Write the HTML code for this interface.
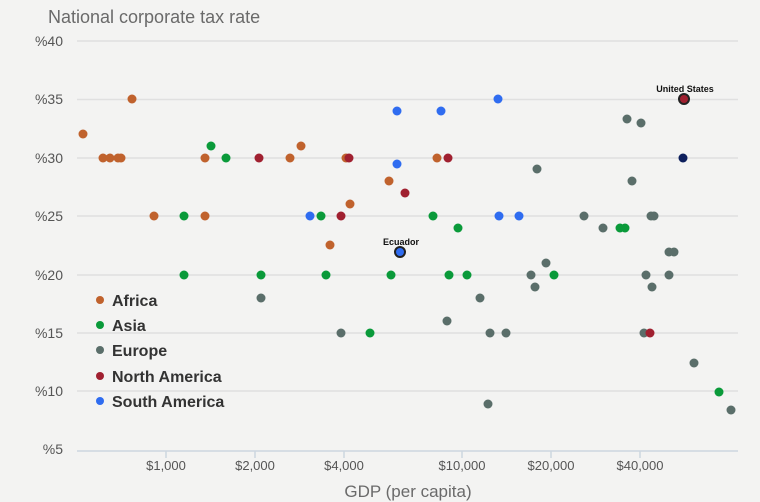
<!DOCTYPE html><html><head><style>html,body{margin:0;padding:0;background:#f3f3f2;overflow:hidden;width:760px;height:502px;}svg{display:block;}</style></head><body>
<svg width="760" height="502" xmlns="http://www.w3.org/2000/svg" font-family="Liberation Sans, sans-serif">
<rect width="760" height="502" fill="#f3f3f2"/>
<text x="48" y="23" font-size="18" fill="#6a6a6a">National corporate tax rate</text>
<g stroke="#e0e0e0" stroke-width="1.5">
<line x1="77" x2="738" y1="41" y2="41"/><line x1="77" x2="738" y1="99.5" y2="99.5"/><line x1="77" x2="738" y1="158" y2="158"/><line x1="77" x2="738" y1="216" y2="216"/><line x1="77" x2="738" y1="275" y2="275"/><line x1="77" x2="738" y1="333" y2="333"/><line x1="77" x2="738" y1="391" y2="391"/></g>
<line x1="77" x2="738" y1="451" y2="451" stroke="#cdd6e0" stroke-width="1.5"/>
<g stroke="#cdd6e0" stroke-width="1.5"><line x1="166" x2="166" y1="451" y2="458"/><line x1="255" x2="255" y1="451" y2="458"/><line x1="344" x2="344" y1="451" y2="458"/><line x1="462" x2="462" y1="451" y2="458"/><line x1="551" x2="551" y1="451" y2="458"/><line x1="640" x2="640" y1="451" y2="458"/></g>
<g font-size="14" fill="#555" text-anchor="end">
<text x="63" y="46">%40</text><text x="63" y="104">%35</text><text x="63" y="163">%30</text><text x="63" y="221">%25</text><text x="63" y="280">%20</text><text x="63" y="338">%15</text><text x="63" y="396">%10</text><text x="63" y="454">%5</text></g>
<g font-size="13" fill="#555" text-anchor="middle">
<text x="166" y="470">$1,000</text><text x="255" y="470">$2,000</text><text x="344" y="470">$4,000</text><text x="462" y="470">$10,000</text><text x="551" y="470">$20,000</text><text x="640" y="470">$40,000</text></g>
<text x="408" y="497" font-size="17" fill="#6a6a6a" text-anchor="middle">GDP (per capita)</text>
<g fill="#c0622d">
<circle cx="83" cy="134" r="4.5"/><circle cx="103" cy="158" r="4.5"/><circle cx="110" cy="158" r="4.5"/><circle cx="118" cy="158" r="4.5"/><circle cx="121" cy="158" r="4.5"/><circle cx="132" cy="99" r="4.5"/><circle cx="154" cy="216" r="4.5"/><circle cx="205" cy="158" r="4.5"/><circle cx="205" cy="216" r="4.5"/><circle cx="290" cy="158" r="4.5"/><circle cx="301" cy="146" r="4.5"/><circle cx="330" cy="245" r="4.5"/><circle cx="346" cy="158" r="4.5"/><circle cx="350" cy="204" r="4.5"/><circle cx="389" cy="181" r="4.5"/><circle cx="437" cy="158" r="4.5"/></g>
<g fill="#0a9a3a">
<circle cx="211" cy="146" r="4.5"/><circle cx="226" cy="158" r="4.5"/><circle cx="184" cy="216" r="4.5"/><circle cx="321" cy="216" r="4.5"/><circle cx="184" cy="275" r="4.5"/><circle cx="261" cy="275" r="4.5"/><circle cx="326" cy="275" r="4.5"/><circle cx="391" cy="275" r="4.5"/><circle cx="370" cy="333" r="4.5"/><circle cx="433" cy="216" r="4.5"/><circle cx="458" cy="228" r="4.5"/><circle cx="449" cy="275" r="4.5"/><circle cx="467" cy="275" r="4.5"/><circle cx="554" cy="275" r="4.5"/><circle cx="620" cy="228" r="4.5"/><circle cx="625" cy="228" r="4.5"/><circle cx="719" cy="392" r="4.5"/></g>
<g fill="#5a6e6a">
<circle cx="261" cy="298" r="4.5"/><circle cx="341" cy="333" r="4.5"/><circle cx="447" cy="321" r="4.5"/><circle cx="480" cy="298" r="4.5"/><circle cx="490" cy="333" r="4.5"/><circle cx="506" cy="333" r="4.5"/><circle cx="488" cy="404" r="4.5"/><circle cx="537" cy="169" r="4.5"/><circle cx="531" cy="275" r="4.5"/><circle cx="535" cy="287" r="4.5"/><circle cx="546" cy="263" r="4.5"/><circle cx="584" cy="216" r="4.5"/><circle cx="603" cy="228" r="4.5"/><circle cx="627" cy="119" r="4.5"/><circle cx="641" cy="123" r="4.5"/><circle cx="632" cy="181" r="4.5"/><circle cx="651" cy="216" r="4.5"/><circle cx="654" cy="216" r="4.5"/><circle cx="646" cy="275" r="4.5"/><circle cx="652" cy="287" r="4.5"/><circle cx="644" cy="333" r="4.5"/><circle cx="669" cy="252" r="4.5"/><circle cx="674" cy="252" r="4.5"/><circle cx="669" cy="275" r="4.5"/><circle cx="694" cy="363" r="4.5"/><circle cx="731" cy="410" r="4.5"/></g>
<g fill="#a02030">
<circle cx="259" cy="158" r="4.5"/><circle cx="341" cy="216" r="4.5"/><circle cx="349" cy="158" r="4.5"/><circle cx="405" cy="193" r="4.5"/><circle cx="448" cy="158" r="4.5"/><circle cx="650" cy="333" r="4.5"/></g>
<g fill="#2f6cf0">
<circle cx="397" cy="111" r="4.5"/><circle cx="441" cy="111" r="4.5"/><circle cx="498" cy="99" r="4.5"/><circle cx="397" cy="164" r="4.5"/><circle cx="310" cy="216" r="4.5"/><circle cx="499" cy="216" r="4.5"/><circle cx="519" cy="216" r="4.5"/></g>
<circle cx="683" cy="158" r="4.5" fill="#0d1f5c"/>
<circle cx="684" cy="99" r="5" fill="#a02030" stroke="#222" stroke-width="2"/>
<circle cx="400" cy="252" r="5" fill="#2f6cf0" stroke="#222" stroke-width="2"/>
<text x="685" y="92" font-size="9" font-weight="bold" fill="#111" text-anchor="middle">United States</text>
<text x="401" y="245" font-size="9" font-weight="bold" fill="#111" text-anchor="middle">Ecuador</text>
<g font-size="16" font-weight="bold" fill="#333">
<circle cx="100" cy="300" r="4" fill="#c0622d"/><text x="112" y="306">Africa</text>
<circle cx="100" cy="325" r="4" fill="#0a9a3a"/><text x="112" y="331">Asia</text>
<circle cx="100" cy="350" r="4" fill="#5a6e6a"/><text x="112" y="356">Europe</text>
<circle cx="100" cy="376" r="4" fill="#a02030"/><text x="112" y="382">North America</text>
<circle cx="100" cy="401" r="4" fill="#2f6cf0"/><text x="112" y="407">South America</text></g>
</svg></body></html>
